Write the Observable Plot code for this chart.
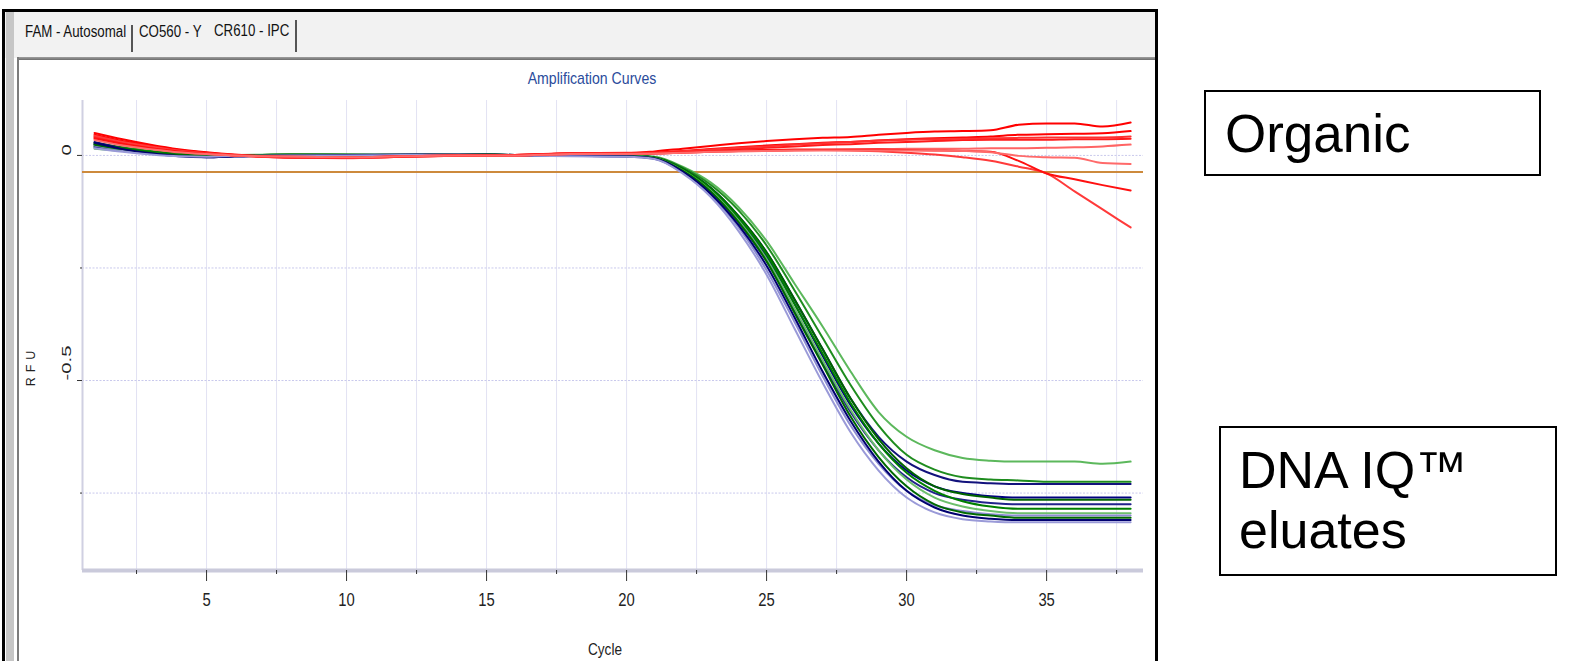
<!DOCTYPE html>
<html>
<head>
<meta charset="utf-8">
<script src="https://cdn.jsdelivr.net/npm/d3@7"></script>
<script src="https://cdn.jsdelivr.net/npm/@observablehq/plot@0.6"></script>
<style>
  html, body { margin: 0; padding: 0; background: #fff; }
  #page { position: relative; width: 1577px; height: 661px; overflow: hidden; background: #fff; }
  .abs { position: absolute; }
  .narrow { font-family: "Liberation Sans", Arial, sans-serif; white-space: nowrap; }
  .tab { font-size: 16px; line-height: 16px; color: #111; transform: scaleX(0.83); transform-origin: 0 50%; }
  .box { border: 2px solid #000; background: #fff; box-sizing: border-box; }
  .boxtext { font-family: "Liberation Sans", Arial, sans-serif; color: #000; white-space: nowrap; }
  #chart { position: absolute; left: 0; top: 0; }
</style>
</head>
<body>
<div id="page">
  <!-- window chrome -->
  <div class="abs" style="left:2px;top:9px;width:1150px;height:700px;border:3px solid #000;"></div>
  <div class="abs" style="left:5px;top:12px;width:1150px;height:46px;background:#f2f2f2;"></div>
  <div class="abs" style="left:6px;top:12px;width:8px;height:660px;background:#c6c6c6;"></div>
  <div class="abs" style="left:17px;top:57px;width:1138px;height:3px;background:linear-gradient(#a0a0a0,#6c6c6c);"></div>
  <div class="abs" style="left:17px;top:57px;width:2px;height:610px;background:#7c7c7c;"></div>
  <div class="abs narrow tab" style="left:25px;top:24px;">FAM - Autosomal</div>
  <div class="abs" style="left:131px;top:25px;width:1.5px;height:27px;background:#555;"></div>
  <div class="abs narrow tab" style="left:139px;top:24px;">CO560 - Y</div>
  <div class="abs narrow tab" style="left:214px;top:23px;">CR610 - IPC</div>
  <div class="abs" style="left:295px;top:20px;width:1.5px;height:32px;background:#555;"></div>
  <div class="abs narrow" style="left:492px;top:70px;width:200px;text-align:center;font-size:17px;line-height:17px;color:#2b4c9c;transform:scaleX(0.83);">Amplification Curves</div>
  <div class="abs narrow" style="left:555px;top:641px;width:100px;text-align:center;font-size:17px;line-height:17px;color:#222;transform:scaleX(0.8);">Cycle</div>
  <div class="abs" style="left:-19px;top:359px;width:100px;text-align:center;font-family:'Liberation Sans',Arial,sans-serif;font-size:12.5px;line-height:14px;letter-spacing:5px;color:#222;transform:rotate(-90deg);">RFU</div>

  <!-- annotation boxes -->
  <div class="abs box" style="left:1204px;top:90px;width:337px;height:86px;"></div>
  <div class="abs boxtext" style="left:1225px;top:107px;font-size:53px;line-height:53px;">Organic</div>
  <div class="abs box" style="left:1219px;top:426px;width:338px;height:150px;"></div>
  <div class="abs boxtext" style="left:1239px;top:440px;font-size:52px;line-height:60px;">DNA IQ™<br>eluates</div>

  <div id="chart"></div>
</div>
<script>
// ---- data ----
const cycles = [1,2,3,4,5,6,8,10,12,14,16,18,20,21,22,23,24,25,26,27,28,29,30,31,32,33,34,35,36,37,38];

// DNA IQ eluates (green and blue traces)
const g1 = [0.022,0.014,0.008,0.004,0.002,0.001,0.002,0.002,0.001,0.003,0.001,0.002,0.000,
  -0.003,-0.025,-0.060,-0.115,-0.190,-0.285,-0.380,-0.480,-0.570,-0.625,-0.655,-0.672,-0.678,-0.680,-0.680,-0.680,-0.685,-0.680];
const g2 = [0.028,0.018,0.010,0.005,0.002,0.000,0.001,0.000,0.002,0.002,0.000,0.001,-0.001,
  -0.004,-0.027,-0.065,-0.122,-0.200,-0.300,-0.405,-0.510,-0.600,-0.665,-0.698,-0.715,-0.720,-0.722,-0.725,-0.725,-0.725,-0.725];
const b1 = [0.030,0.016,0.006,0.000,-0.003,-0.002,0.001,0.001,0.000,0.003,0.001,0.000,-0.001,
  -0.005,-0.030,-0.072,-0.135,-0.215,-0.320,-0.430,-0.540,-0.625,-0.680,-0.710,-0.725,-0.728,-0.730,-0.730,-0.730,-0.730,-0.730];
const b2 = [0.024,0.012,0.004,-0.002,-0.004,-0.002,0.000,0.001,0.002,0.002,0.000,-0.001,-0.002,
  -0.006,-0.032,-0.075,-0.140,-0.225,-0.330,-0.445,-0.555,-0.640,-0.700,-0.735,-0.750,-0.757,-0.760,-0.760,-0.760,-0.760,-0.760];
const g3 = [0.020,0.012,0.006,0.002,0.000,0.000,0.002,0.001,0.000,0.002,0.001,0.000,-0.001,
  -0.005,-0.030,-0.072,-0.135,-0.215,-0.320,-0.430,-0.540,-0.630,-0.695,-0.735,-0.752,-0.760,-0.765,-0.765,-0.765,-0.765,-0.765];
const b3 = [0.018,0.010,0.004,0.000,-0.002,-0.001,0.001,0.000,0.001,0.003,0.001,-0.001,-0.002,
  -0.006,-0.034,-0.080,-0.148,-0.235,-0.345,-0.460,-0.570,-0.655,-0.715,-0.750,-0.765,-0.772,-0.775,-0.775,-0.775,-0.775,-0.775];
const g4 = [0.026,0.016,0.008,0.003,0.001,0.000,0.001,0.001,0.001,0.001,0.000,0.000,-0.001,
  -0.005,-0.031,-0.074,-0.138,-0.220,-0.330,-0.440,-0.550,-0.640,-0.705,-0.745,-0.768,-0.780,-0.785,-0.785,-0.785,-0.785,-0.785];
const g5 = [0.015,0.010,0.005,0.002,0.000,0.000,0.002,0.001,0.000,0.001,0.001,0.000,-0.001,
  -0.006,-0.033,-0.078,-0.145,-0.230,-0.340,-0.455,-0.565,-0.655,-0.720,-0.760,-0.780,-0.790,-0.795,-0.795,-0.795,-0.795,-0.795];
const b4 = [0.022,0.012,0.004,-0.001,-0.002,-0.001,0.001,0.000,0.000,0.002,0.000,-0.001,-0.003,
  -0.008,-0.038,-0.088,-0.160,-0.255,-0.370,-0.490,-0.600,-0.685,-0.745,-0.777,-0.790,-0.797,-0.800,-0.800,-0.800,-0.800,-0.800];
const g6 = [0.024,0.014,0.006,0.002,0.000,0.000,0.002,0.002,0.001,0.003,0.001,0.000,-0.002,
  -0.006,-0.034,-0.080,-0.148,-0.235,-0.350,-0.465,-0.580,-0.670,-0.735,-0.775,-0.793,-0.800,-0.805,-0.805,-0.805,-0.805,-0.805];
const b5 = [0.028,0.014,0.005,-0.001,-0.004,-0.002,0.000,0.001,0.001,0.002,0.000,-0.001,-0.002,
  -0.007,-0.036,-0.085,-0.155,-0.245,-0.360,-0.480,-0.590,-0.680,-0.745,-0.782,-0.800,-0.807,-0.810,-0.810,-0.810,-0.810,-0.810];
const b6 = [0.016,0.008,0.002,-0.002,-0.003,-0.001,0.000,0.000,0.001,0.002,0.000,-0.002,-0.003,
  -0.008,-0.040,-0.092,-0.168,-0.265,-0.385,-0.505,-0.615,-0.700,-0.760,-0.793,-0.808,-0.813,-0.815,-0.815,-0.815,-0.815,-0.815];

// Organic extracts (red traces)
const r1 = [0.050,0.036,0.024,0.014,0.007,0.002,-0.003,-0.004,-0.002,0.000,0.001,0.004,0.005,
  0.009,0.015,0.021,0.027,0.032,0.036,0.039,0.041,0.046,0.050,0.053,0.054,0.056,0.068,0.071,0.071,0.064,0.073];
const r2 = [0.046,0.032,0.022,0.012,0.006,0.001,-0.005,-0.006,-0.003,-0.001,0.000,0.003,0.005,
  0.006,0.010,0.014,0.018,0.022,0.025,0.028,0.030,0.033,0.036,0.038,0.040,0.042,0.046,0.047,0.048,0.049,0.054];
const r3 = [0.042,0.028,0.018,0.010,0.004,0.000,-0.004,-0.005,-0.002,0.000,0.000,0.004,0.004,
  0.005,0.008,0.011,0.014,0.017,0.020,0.023,0.025,0.028,0.030,0.032,0.034,0.035,0.035,0.035,0.036,0.036,0.037];
const r4 = [0.040,0.026,0.016,0.009,0.004,0.000,-0.003,-0.004,-0.002,0.000,0.001,0.005,0.006,
  0.006,0.009,0.013,0.017,0.020,0.024,0.027,0.030,0.033,0.035,0.036,0.037,0.038,0.039,0.040,0.040,0.040,0.042];
const r5 = [0.036,0.024,0.015,0.008,0.003,0.000,-0.004,-0.006,-0.003,-0.001,0.000,0.003,0.004,
  0.004,0.006,0.008,0.009,0.010,0.011,0.012,0.013,0.014,0.015,0.015,0.015,0.016,0.016,0.017,0.018,0.020,0.024];
const r6 = [0.044,0.030,0.020,0.011,0.005,0.001,-0.005,-0.005,-0.002,0.000,0.000,0.004,0.004,
  0.004,0.006,0.008,0.010,0.011,0.012,0.012,0.011,0.009,0.006,0.002,-0.004,-0.012,-0.025,-0.040,-0.080,-0.120,-0.160];
const r7 = [0.038,0.026,0.016,0.009,0.004,0.000,-0.004,-0.005,-0.003,0.000,0.001,0.004,0.004,
  0.005,0.007,0.009,0.011,0.012,0.013,0.013,0.013,0.013,0.012,0.011,0.010,0.008,-0.012,-0.040,-0.053,-0.066,-0.078];
const r8 = [0.034,0.022,0.014,0.007,0.003,0.000,-0.003,-0.004,-0.002,0.000,0.000,0.003,0.003,
  0.004,0.006,0.008,0.009,0.010,0.011,0.011,0.011,0.011,0.011,0.011,0.010,0.007,-0.001,-0.004,-0.005,-0.017,-0.019];

const threshold = -0.037;

const xMajor = [5,10,15,20,25,30,35];
const xMinor = [2.5,7.5,12.5,17.5,22.5,27.5,32.5,37.5];
const yMajor = [0, -0.5];
const yMajorLabels = ["0", "-0.5"];
const yMinor = [-0.25, -0.75];
const yGrid = [0, -0.25, -0.5, -0.75];

// ---- styling ----
const dnaSeries = [
  {v: g1, c: "#5cb85c"}, {v: g2, c: "#1e8c1e"}, {v: b1, c: "#12127c"}, {v: b2, c: "#000080"},
  {v: g3, c: "#006400"}, {v: b3, c: "#22228c"}, {v: g4, c: "#008000"}, {v: g5, c: "#6cbf6c"},
  {v: b4, c: "#8c8cd2"}, {v: g6, c: "#006a00"}, {v: b5, c: "#000070"}, {v: b6, c: "#9a9ad8"}
];
const redSeries = [
  {v: r1, c: "#ff0000"}, {v: r2, c: "#ff0000"}, {v: r3, c: "#ff1a1a"}, {v: r4, c: "#ff3030"},
  {v: r5, c: "#ff6464"}, {v: r6, c: "#ff3a3a"}, {v: r7, c: "#ff1010"}, {v: r8, c: "#ff6a6a"}
];

const xDomain = [0.57, 38.46];
const yDomain = [-0.922, 0.122];
const font = "'Liberation Sans', Arial, sans-serif";

const toRows = s => cycles.map((c, i) => ({cycle: c, rfu: s.v[i]}));
const lineMarks = [...dnaSeries, ...redSeries].map(s =>
  Plot.line(toRows(s), {x: "cycle", y: "rfu", stroke: s.c, strokeWidth: 2, curve: "monotone-x"})
);

const chart = Plot.plot({
  width: 1577,
  height: 661,
  marginLeft: 82,
  marginRight: 434,
  marginTop: 100,
  marginBottom: 91,
  style: {background: "transparent", overflow: "visible"},
  x: {domain: xDomain, axis: null},
  y: {domain: yDomain, axis: null},
  marks: [
    Plot.gridX([...xMinor, ...xMajor], {stroke: "#e2e2f3", strokeOpacity: 1}),
    Plot.gridY(yGrid, {stroke: "#c9c9ec", strokeOpacity: 1, strokeDasharray: "2,1.5"}),
    Plot.ruleX([xDomain[0]], {stroke: "#d0d0e2", strokeWidth: 2}),
    Plot.ruleY([threshold], {stroke: "#cd8a3c", strokeWidth: 2}),
    ...lineMarks,
    Plot.ruleY([yDomain[0]], {stroke: "#cacadb", strokeWidth: 4}),
    Plot.axisX(xMinor, {tickSize: 4, tickFormat: () => "", stroke: "#333", label: null}),
    Plot.axisX(xMajor, {tickSize: 11, tickPadding: 11, fontSize: 19, fontFamily: font, stroke: "#333", fill: "#222", label: null}),
    Plot.axisY(yMajor, {tickSize: 5, tickFormat: () => "", stroke: "#333", label: null}),
    Plot.axisY(yMinor, {tickSize: 2, tickFormat: () => "", stroke: "#333", label: null}),
    Plot.text(yMajor, {y: d => d, text: (d, i) => yMajorLabels[i], frameAnchor: "left", dx: -16, rotate: -90,
      fontSize: 14.5, fontFamily: font, fill: "#222"})
  ]
});

// append an extra scale to a text's own transform (keeps its anchor point fixed)
function rescale(sel, sx, sy) {
  sel.each(function() {
    const t = d3.select(this);
    const tr = t.attr("transform");
    if (tr) {
      t.attr("transform", tr + ` scale(${sx},${sy})`);
    } else {
      const x = +t.attr("x") || 0, y = +t.attr("y") || 0;
      t.attr("transform", `translate(${x},${y}) scale(${sx},${sy}) translate(${-x},${-y})`);
    }
  });
}
// narrow x tick labels, and stretched y tick labels, as in the instrument software
rescale(d3.select(chart).selectAll('g[aria-label="x-axis tick label"] text'), 0.78, 1);
rescale(d3.select(chart).selectAll("text").filter(function() {
  return yMajorLabels.includes(this.textContent) && !this.closest('g[aria-label^="x-axis"]');
}), 1.4, 0.9);
document.getElementById("chart").appendChild(chart);
</script>
</body>
</html>
